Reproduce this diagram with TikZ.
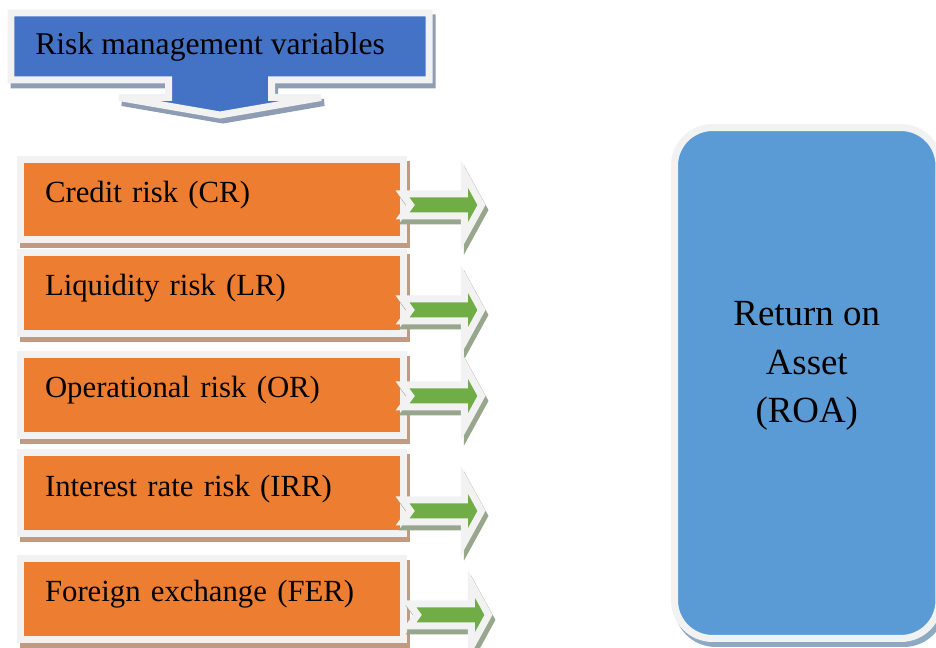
\documentclass[tikz,border=0pt]{standalone}
\usepackage{fontspec}
\setmainfont{Liberation Serif}
\usetikzlibrary{calc}
\usetikzlibrary{positioning}

\definecolor{rimwhite}{HTML}{F2F2F2}
\definecolor{topblue}{HTML}{4472C4}
\definecolor{topshadow}{HTML}{8E9CB4}
\definecolor{riskorange}{HTML}{ED7D31}
\definecolor{riskshadow}{HTML}{BF9B83}
\definecolor{arrgreen}{HTML}{70AD47}
\definecolor{arrshadow}{HTML}{98A68E}
\definecolor{roablue}{HTML}{5B9BD5}
\definecolor{roashadow}{HTML}{8DA9C4}

\begin{document}
\begin{tikzpicture}[x=0.02cm, y=-0.02cm,
    rim/.style={draw=rimwhite, line width=0.14cm},
    castshadow/.style={preaction={draw=#1, fill=#1, line width=0.14cm, transform canvas={shift={(3,5)}}}},
    riskbox/.style={rectangle, rim, fill=riskorange, castshadow=riskshadow,
        minimum height=1.62cm, text width=6.68cm, inner xsep=0.49cm, inner ysep=0pt,
        align=left, text height=0.5cm, text depth=0.38cm, font=\fontsize{17.5}{22}\selectfont}]
    \useasboundingbox (0,0) rectangle (936,648);

    \draw[rim, fill=topblue, castshadow=topshadow] (11,13) -- (429,13) -- (429,80) -- (271.5,80) -- (271.5,97.5) -- (321,97.5) -- (220,115) -- (119,97.5) -- (168.5,97.5) -- (168.5,80) -- (11,80) -- cycle;
    \node (RMV) [anchor=base west, inner sep=0pt, font=\fontsize{18}{22}\selectfont] at (35,55) {Risk management variables};

    \node (CR) [riskbox] at (212,199.5) {Credit risk (CR)};
    \node (LR) [riskbox, below of=CR, node distance=1.87cm] {Liquidity risk (LR)};
    \node (OR) [riskbox, below of=LR, node distance=2.04cm] {Operational risk (OR)};
    \node (IRR) [riskbox, below of=OR, node distance=1.97cm] {Interest rate risk (IRR)};
    \node (FER) [riskbox, below of=IRR, node distance=2.11cm] {Foreign exchange (FER)};

    \foreach \n/\dx/\dy in {CR/-4.5/5.5, LR/-4.5/17, OR/-4.5/1, IRR/-4.5/17.5, FER/2.5/16}
        \draw[rim, fill=arrgreen, castshadow=arrshadow] ($(\n.east)+(\dx,\dy-11)$) -- ++(62,0) -- ++(0,-20) -- ++(17,31) -- ++(-17,31) -- ++(0,-20) -- ++(-62,0) -- ++(8,-11) -- cycle;

    \node (ROA) [rectangle, rounded corners=0.76cm, rim, fill=roablue, castshadow=roashadow,
        minimum width=5.29cm, minimum height=10.22cm, inner sep=0pt] at (806.75,383) {};
    \node (ROAtext) [align=center, font=\fontsize{21}{27.5}\selectfont] at ([yshift=0.34cm]ROA.center) {Return on\\Asset\\(ROA)};
\end{tikzpicture}
\end{document}
